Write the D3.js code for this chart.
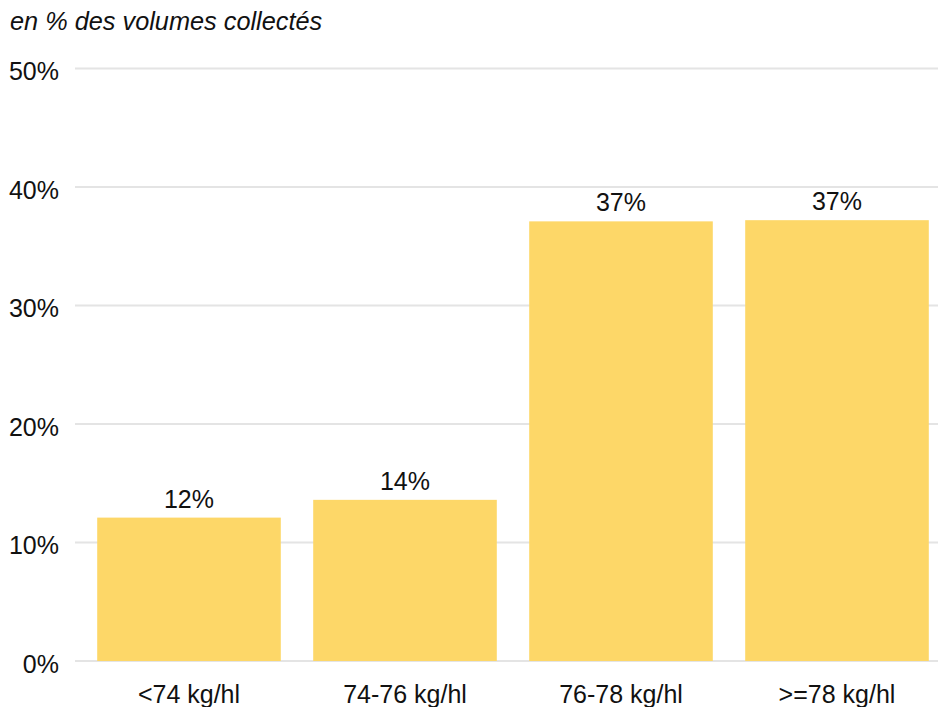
<!DOCTYPE html>
<html>
<head>
<meta charset="utf-8">
<script src="https://cdn.jsdelivr.net/npm/d3@7"></script>
<style>
  html, body { margin: 0; padding: 0; background: #fff; }
  svg { display: block; }
  text { font-family: "Liberation Sans", Arial, sans-serif; fill: #111; }
</style>
</head>
<body>
<svg id="chart" width="938" height="707"></svg>
<script>
const categories = ["<74 kg/hl", "74-76 kg/hl", "76-78 kg/hl", ">=78 kg/hl"];
const values = [12.1, 13.6, 37.1, 37.2];
const valueLabels = ["12%", "14%", "37%", "37%"];
const yTicks = [0, 10, 20, 30, 40, 50];
const title = "en % des volumes collectés";

const svg = d3.select("#chart");
const W = 938, H = 707;

const x = d3.scaleBand()
  .domain(categories)
  .range([81, 945])
  .paddingInner(0.15)
  .paddingOuter(0.075);

const y = d3.scaleLinear()
  .domain([0, 50])
  .range([661, 68.5]);

// title
svg.append("text")
  .attr("x", 10)
  .attr("y", 30)
  .attr("font-size", 25.3)
  .attr("font-style", "italic")
  .text(title);

// gridlines
svg.append("g").selectAll("line")
  .data(yTicks)
  .join("line")
  .attr("x1", 75)
  .attr("x2", W)
  .attr("y1", d => y(d))
  .attr("y2", d => y(d))
  .attr("stroke", "#e4e4e4")
  .attr("stroke-width", 2);

// y tick labels
svg.append("g").selectAll("text")
  .data(yTicks)
  .join("text")
  .attr("x", 59)
  .attr("y", d => y(d) + 11.5)
  .attr("text-anchor", "end")
  .attr("font-size", 25)
  .text(d => d + "%");

// bars
svg.append("g").selectAll("rect")
  .data(values)
  .join("rect")
  .attr("x", (d, i) => x(categories[i]))
  .attr("width", x.bandwidth())
  .attr("y", d => y(d))
  .attr("height", d => y(0) - y(d))
  .attr("fill", "#fdd768");

// value labels
svg.append("g").selectAll("text")
  .data(values)
  .join("text")
  .attr("x", (d, i) => x(categories[i]) + x.bandwidth() / 2)
  .attr("y", d => y(d) - 10)
  .attr("text-anchor", "middle")
  .attr("font-size", 25)
  .text((d, i) => valueLabels[i]);

// x labels
svg.append("g").selectAll("text")
  .data(categories)
  .join("text")
  .attr("x", d => x(d) + x.bandwidth() / 2)
  .attr("y", 703)
  .attr("text-anchor", "middle")
  .attr("font-size", 25)
  .text(d => d);
</script>
</body>
</html>
